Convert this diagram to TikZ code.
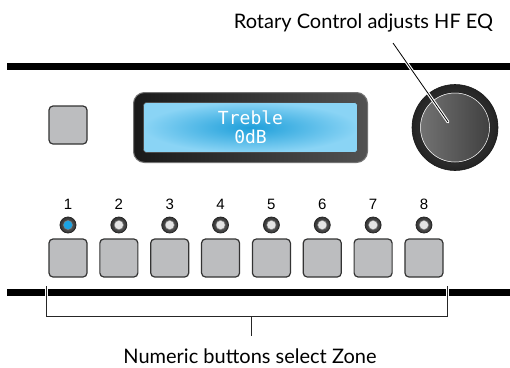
\documentclass[tikz,border=0pt]{standalone}
\usepackage{fontspec}
\setmainfont{Lato}
\newfontfamily\digitfont{Liberation Sans}
\newfontfamily\lcdfont{DejaVu Sans Mono}
\usetikzlibrary{positioning}

\definecolor{btngray}{HTML}{BCBDBF}
\definecolor{lcdblue}{HTML}{1E9FDA}
\definecolor{lcdlight}{HTML}{8AD4F5}
\definecolor{ledblue}{HTML}{1BA3E3}
\definecolor{ledoff}{HTML}{E4E4E4}

\tikzset{
    keybtn/.style={draw=black!80, line width=1.2pt, fill=btngray,
        rounded corners=4pt, minimum size=38pt, inner sep=0pt},
    ledring/.style={circle, draw=black!85, line width=0.8pt, inner color=black!55,
        outer color=black!80, minimum size=16pt, inner sep=0pt},
    ledlabel/.style={font=\digitfont\fontsize{15}{16}\selectfont, inner sep=0pt},
    callout/.style={font=\fontsize{20}{22}\selectfont, inner sep=0pt},
    panelbar/.style={line width=7pt},
    bracketline/.style={line width=0.8pt, black!85}
}

\begin{document}
\begin{tikzpicture}[x=1pt, y=-1pt]
    \useasboundingbox (0,0) rectangle (510,367);

    % panel edges
    \draw[panelbar] (7,66.5) -- (510,66.5);
    \draw[panelbar] (7,292.5) -- (510,292.5);

    % top row: button, display, rotary control
    \node[keybtn] (menu) at (68,125) {};

    \node[draw=black!55, line width=1pt, rounded corners=11pt, minimum width=234pt,
        minimum height=70pt, left color=black!90, middle color=black!55,
        right color=black!68] (lcd) at (250.5,127.5) {};
    \node[draw=black!70, line width=0.6pt, rounded corners=3pt, minimum width=214pt,
        minimum height=50pt, inner color=lcdblue, outer color=lcdlight,
        text=white, align=center, font=\lcdfont\fontsize{18}{19}\selectfont]
        (screen) at (lcd.center) {Treble\\0dB};

    \node[circle, draw=black!90, line width=0.6pt, minimum size=86pt,
        inner color=black!68, outer color=black!86] (knob) at (455,127.5) {};
    \node[circle, draw=black!85, line width=1pt, minimum size=71pt,
        left color=black!55, right color=black!75] (knobcap) at (knob.center) {};
    \draw[white, line width=0.5pt] (knob.center) circle (34.5pt);

    % zone buttons with leds
    \foreach \i in {1,...,8} {
        \node[keybtn] (btn\i) at ({68+50.85*(\i-1)},258) {};
        \node[ledring, above=5pt of btn\i] (led\i) {};
        \node[ledlabel, above=7pt of led\i] (num\i) {\i};
    }
    \fill[ledblue, draw=black!50, line width=0.4pt] (led1.center) circle (4.6pt);
    \foreach \i in {2,...,8}
        \fill[ledoff, draw=black!50, line width=0.4pt] (led\i.center) circle (4.6pt);

    % callout for the rotary control
    \node[callout] (hfeq) at (363.5,23) {Rotary Control adjusts HF EQ};
    \coordinate (lead) at (393,43);
    \coordinate (tip) at (448,122);
    \draw[white, line width=3pt, line cap=round, shorten <=20pt] (lead) -- (tip);
    \draw[line width=0.8pt] (lead) -- (tip);

    % bracket under the zone buttons
    \coordinate (brl) at (46,286);
    \coordinate (brr) at (447,286);
    \coordinate (brmid) at (251,316);
    \draw[white, line width=3pt] (46,288) -- (46,297) (447,288) -- (447,297);
    \draw[bracketline] (brl) |- (brr |- brmid) -- (brr);
    \draw[bracketline] (brmid) -- ++(0,20);
    \node[callout] (zone) at (250,356) {Numeric buttons select Zone};
\end{tikzpicture}
\end{document}
